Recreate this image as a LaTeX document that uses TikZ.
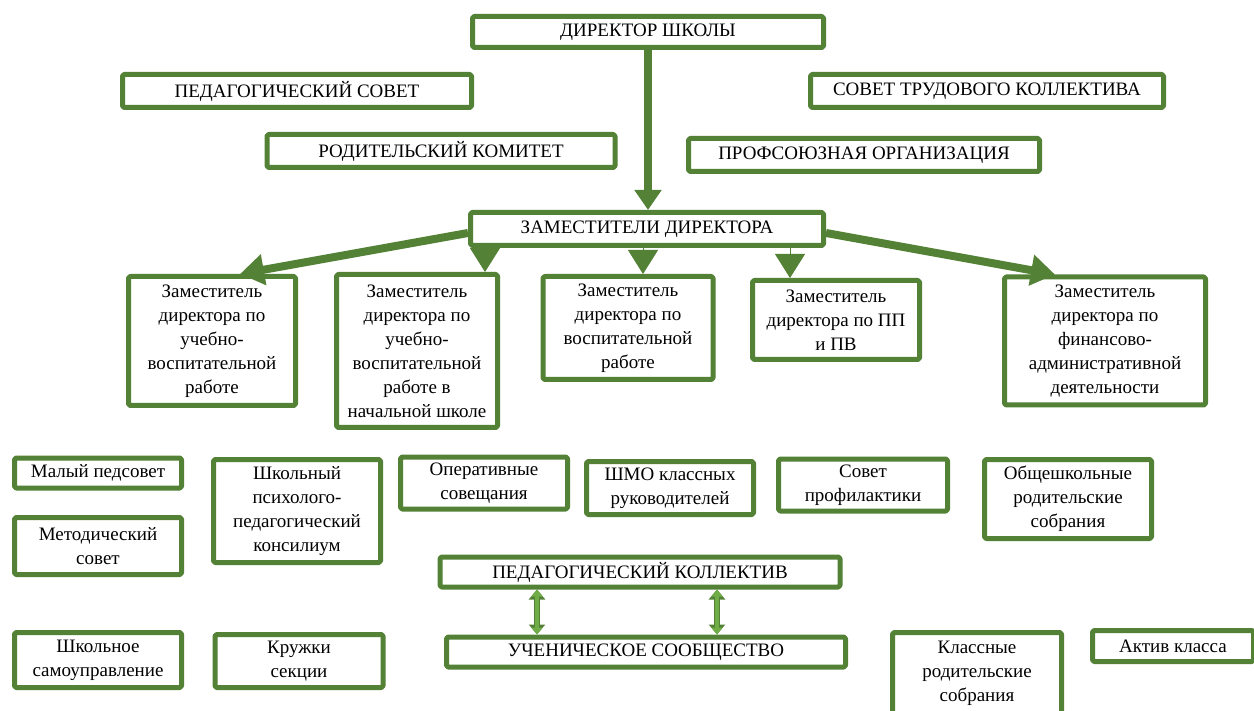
\documentclass[tikz,border=0pt]{standalone}
\usepackage{fontspec}
\setmainfont{Liberation Serif}
\usetikzlibrary{arrows.meta}
\definecolor{boxgreen}{HTML}{538135}
\definecolor{lightgreen}{HTML}{70AD47}
\begin{document}
\begin{tikzpicture}[x=0.5pt, y=-0.5pt, font=\fontsize{9.5pt}{12pt}\selectfont, line join=round,
		box/.style={draw=boxgreen, line width=2.5pt, fill=white, align=center, inner sep=1pt, rounded corners=0.8pt},
		bigarrow/.style={draw=boxgreen, line width=4pt, -{Triangle[width=15pt,length=12pt]}},
		headarrow/.style={draw=boxgreen, line width=0.4pt, -{Triangle[width=15pt,length=12pt]}},
		dblarrow/.style={preaction={draw=boxgreen, line width=3pt, {Triangle[width=8pt,length=5pt]}-{Triangle[width=8pt,length=5pt]}},
			draw=lightgreen, line width=1.6pt, {Triangle[width=5.5pt,length=3.5pt]}-{Triangle[width=5.5pt,length=3.5pt]}}]
		\useasboundingbox (0,0) rectangle (1254,711);
		\clip (0,0) rectangle (1254,711);
		\node[box, minimum width=175.5pt, minimum height=15.5pt] (dir) at (648,32) {ДИРЕКТОР ШКОЛЫ};
		\node[box, minimum width=174.5pt, minimum height=16.5pt] (pedsov) at (297,91) {ПЕДАГОГИЧЕСКИЙ СОВЕТ};
		\node[box, minimum width=176.5pt, minimum height=16.5pt] (stk) at (987,91) {СОВЕТ ТРУДОВОГО КОЛЛЕКТИВА};
		\node[box, minimum width=174pt, minimum height=16.5pt] (rodkom) at (441,151) {РОДИТЕЛЬСКИЙ КОМИТЕТ};
		\node[box, minimum width=175.5pt, minimum height=16.5pt] (prof) at (864,155) {ПРОФСОЮЗНАЯ ОРГАНИЗАЦИЯ};
		\node[box, minimum width=176.5pt, minimum height=16.5pt] (zam) at (647,229) {ЗАМЕСТИТЕЛИ ДИРЕКТОРА};
		\node[box, minimum width=83.5pt, minimum height=64.5pt] (zamuvr) at (212,341) {Заместитель\\директора по\\учебно-\\воспитательной\\работе};
		\node[box, minimum width=80.5pt, minimum height=76.5pt] (zamnach) at (417,351) {Заместитель\\директора по\\учебно-\\воспитательной\\работе в\\начальной школе};
		\node[box, minimum width=85pt, minimum height=51.5pt] (zamvr) at (628,328) {Заместитель\\директора по\\воспитательной\\работе};
		\node[box, minimum width=83.5pt, minimum height=39.5pt] (zampp) at (836,320) {Заместитель\\директора по ПП\\и ПВ};
		\node[box, minimum width=100.5pt, minimum height=64pt] (zamfin) at (1105,341) {Заместитель\\директора по\\финансово-\\административной\\деятельности};
		\node[box, minimum width=83.5pt, minimum height=15pt] (malped) at (98,473) {Малый педсовет};
		\node[box, minimum width=83.5pt, minimum height=28.5pt] (metsov) at (98,546) {Методический\\совет};
		\node[box, minimum width=83.5pt, minimum height=51.5pt] (ppk) at (297,511) {Школьный\\психолого-\\педагогический\\консилиум};
		\node[box, minimum width=83.5pt, minimum height=26pt] (oper) at (484,483) {Оперативные\\совещания};
		\node[box, minimum width=83.5pt, minimum height=26.5pt] (shmo) at (670,488) {ШМО классных\\руководителей};
		\node[box, minimum width=84.5pt, minimum height=26pt] (profil) at (863,485) {Совет\\профилактики};
		\node[box, minimum width=83.5pt, minimum height=39.5pt] (obsch) at (1068,499) {Общешкольные\\родительские\\собрания};
		\node[box, minimum width=200pt, minimum height=15pt] (pedkol) at (640,572) {ПЕДАГОГИЧЕСКИЙ КОЛЛЕКТИВ};
		\node[box, minimum width=199.5pt, minimum height=15pt] (uchen) at (646,652) {УЧЕНИЧЕСКОЕ СООБЩЕСТВО};
		\node[box, minimum width=83.5pt, minimum height=27.5pt] (samoupr) at (98,660) {Школьное\\самоуправление};
		\node[box, minimum width=84pt, minimum height=26.5pt] (kruzhki) at (299,661) {Кружки\\секции};
		\node[box, minimum width=84.5pt, minimum height=40.5pt] (klass) at (977,673) {Классные\\родительские\\собрания};
		\node[box, minimum width=80.5pt, minimum height=15.5pt] (aktiv) at (1173,646) {Актив класса};
		\draw[bigarrow, -{Triangle[width=13pt,length=10pt]}] (dir.south) -- (dir.south |- zam.north);
		\draw[bigarrow] ([yshift=-2pt]zam.west) -- ([xshift=14pt]zamuvr.north);
		\draw[bigarrow] ([yshift=-2pt]zam.east) -- ([xshift=-25pt]zamfin.north);
		\coordinate (tipnach) at ([xshift=34pt]zamnach.north);
		\coordinate (tipvr) at ([xshift=7.5pt]zamvr.north);
		\coordinate (tippp) at ([xshift=-23pt]zampp.north);
		\draw[headarrow] (zam.south -| tipnach) -- (tipnach);
		\draw[headarrow] (zam.south -| tipvr) -- (tipvr);
		\draw[headarrow] (zam.south -| tippp) -- (tippp);
		\coordinate (linkl) at (537,0);
		\coordinate (linkr) at (717,0);
		\draw[dblarrow] (pedkol.south -| linkl) -- (uchen.north -| linkl);
		\draw[dblarrow] (pedkol.south -| linkr) -- (uchen.north -| linkr);
	\end{tikzpicture}
\end{document}
